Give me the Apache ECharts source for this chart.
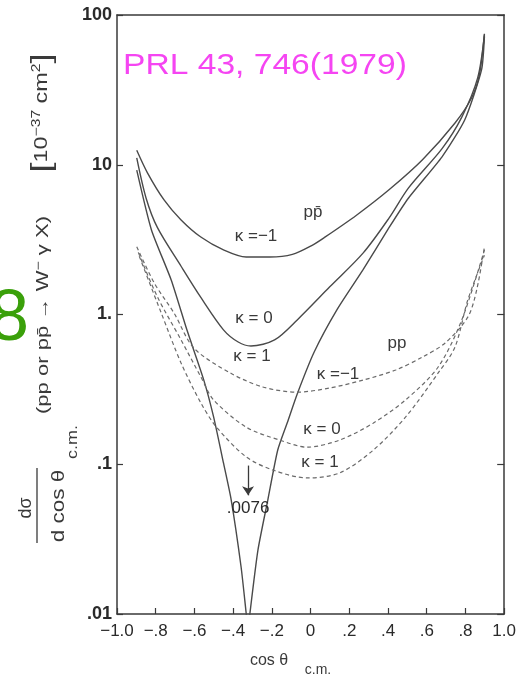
<!DOCTYPE html>
<html>
<head>
<meta charset="utf-8">
<script src="https://cdn.jsdelivr.net/npm/echarts@6/dist/echarts.min.js"></script>
<style>
  html, body { margin: 0; padding: 0; background: #fff; }
  #chart { width: 519px; height: 677px; }
</style>
</head>
<body>
<div id="chart"></div>
<script>
// d sigma / d cos(theta_cm) for W- + photon production, [cos theta, 1e-37 cm^2]
// p pbar curves (solid)
const ppbarKappaM1 = [[-0.898,12.5],[-0.842,8.8],[-0.756,5.8],[-0.669,4.28],[-0.567,3.29],[-0.45,2.70],[-0.333,2.42],[-0.211,2.42],[-0.094,2.52],[0.008,2.9],[0.069,3.25],[0.237,4.6],[0.405,6.8],[0.578,10.8],[0.746,19],[0.832,28],[0.872,40],[0.898,75]];
const ppbarKappa0 = [[-0.898,11.1],[-0.85,6.0],[-0.791,3.8],[-0.669,2.1],[-0.567,1.3],[-0.45,0.79],[-0.374,0.655],[-0.308,0.616],[-0.186,0.676],[-0.069,0.92],[0.099,1.53],[0.272,2.58],[0.405,4.4],[0.506,7.0],[0.679,12.8],[0.781,20.8],[0.863,38],[0.898,74]];
const ppbarKappa1 = [[-0.898,9.2],[-0.822,3.67],[-0.72,1.70],[-0.639,0.79],[-0.552,0.366],[-0.501,0.207],[-0.45,0.102],[-0.41,0.0577],[-0.359,0.0206],[-0.333,0.0102],[-0.323,0.0076],[-0.313,0.0102],[-0.272,0.0267],[-0.221,0.0577],[-0.17,0.124],[-0.12,0.19],[-0.069,0.295],[0.018,0.56],[0.135,1.07],[0.272,2.0],[0.405,3.8],[0.506,6.0],[0.679,11.3],[0.796,19.9],[0.883,43],[0.898,72]];
// p p curves (dashed)
const ppKappaM1 = [[-0.898,2.83],[-0.807,1.62],[-0.705,1.02],[-0.603,0.597],[-0.415,0.407],[-0.247,0.328],[-0.069,0.303],[0.099,0.323],[0.272,0.365],[0.44,0.426],[0.578,0.52],[0.695,0.645],[0.812,0.96],[0.858,1.46],[0.898,2.83]];
const ppKappa0 = [[-0.89,2.6],[-0.791,1.31],[-0.669,0.676],[-0.567,0.383],[-0.501,0.269],[-0.333,0.177],[-0.16,0.145],[-0.018,0.130],[0.15,0.145],[0.323,0.188],[0.491,0.269],[0.659,0.446],[0.781,0.92],[0.898,2.70]];
const ppKappa1 = [[-0.885,2.45],[-0.771,1.02],[-0.669,0.474],[-0.567,0.257],[-0.486,0.177],[-0.333,0.112],[-0.196,0.0916],[-0.018,0.081],[0.15,0.0875],[0.323,0.124],[0.491,0.207],[0.659,0.407],[0.746,0.607],[0.812,1.25],[0.898,2.49]];

// minimum of the pbar-p kappa = 1 curve
const kappa1Min = [-0.323, 0.0076];

// axis tick labels
const xTickLabels = ['\u22121.0','\u2212.8','\u2212.6','\u2212.4','\u2212.2','0','.2','.4','.6','.8','1.0'];
const yTickLabels = ['.01','.1','1.','10','100'];

const INK = '#3a3a3a';
const FONT = '"Liberation Sans", Arial, sans-serif';

const chart = echarts.init(document.getElementById('chart'), null, { renderer: 'canvas' });

function solid(name, data, extra) {
  return Object.assign({
    type: 'line', name, data, symbol: 'none', smooth: 0.3,
    clip: true, xAxisIndex: 0, yAxisIndex: 0,
    lineStyle: { color: '#4a4a4a', width: 1.4 }
  }, extra || {});
}
function dashed(name, data) {
  return {
    type: 'line', name, data, symbol: 'none', smooth: 0.3,
    clip: true, xAxisIndex: 0, yAxisIndex: 0,
    lineStyle: { color: '#6a6a6a', width: 1.2, type: [4, 3] }
  };
}

function fmtMin(v) { return String(v).replace(/^0/, ''); }

const kappaFont = '17px ' + FONT;
function label(text, x, y, font, extra) {
  return Object.assign({
    type: 'text', x, y, silent: true,
    style: { text, font: font || kappaFont, fill: INK, align: 'center', verticalAlign: 'middle' }
  }, extra || {});
}

const frameLine = { show: true, onZero: false, lineStyle: { color: INK, width: 1.5 } };

const option = {
  animation: false,
  backgroundColor: '#ffffff',
  grid: { left: 117, right: 9, top: 15, bottom: 63, containLabel: false },
  xAxis: [{
    type: 'value', min: -1, max: 1, interval: 0.2,
    axisLine: frameLine,
    axisTick: { inside: true, length: 6, lineStyle: { color: INK, width: 1.2 } },
    splitLine: { show: false },
    axisLabel: {
      margin: 9, color: '#2a2a2a', fontSize: 17, fontFamily: FONT,
      formatter: v => xTickLabels[Math.round((v + 1) / 0.2)]
    }
  }, {
    type: 'value', min: -1, max: 1, position: 'top',
    axisLine: frameLine,
    axisTick: { show: false }, axisLabel: { show: false }, splitLine: { show: false }
  }],
  yAxis: [{
    type: 'log', logBase: 10, min: 0.01, max: 100, position: 'left',
    axisLine: frameLine,
    axisTick: { inside: true, length: 6, lineStyle: { color: INK, width: 1.2 } },
    minorTick: { show: false },
    splitLine: { show: false },
    axisLabel: {
      margin: 5, color: '#2a2a2a', fontSize: 18, fontWeight: 'bold', fontFamily: FONT,
      formatter: v => yTickLabels[Math.round(Math.log10(v)) + 2]
    }
  }, {
    type: 'log', logBase: 10, min: 0.01, max: 100, position: 'right',
    axisLine: frameLine,
    axisTick: { inside: true, length: 7, lineStyle: { color: INK, width: 1.2 } },
    axisLabel: { show: false }, splitLine: { show: false }
  }],
  series: [
    solid('pp\u0304 \u03ba=-1', ppbarKappaM1),
    solid('pp\u0304 \u03ba=0', ppbarKappa0),
    solid('pp\u0304 \u03ba=1', ppbarKappa1, {
      smooth: 0.2,
      markLine: {
        silent: true, symbol: ['none', 'arrow'], symbolSize: 9,
        lineStyle: { color: INK, width: 1.3, type: 'solid' },
        itemStyle: { color: INK },
        label: { show: false },
        data: [[{ coord: [kappa1Min[0], 0.098] }, { coord: [kappa1Min[0], 0.062] }]]
      },
      markPoint: {
        silent: true, symbol: 'circle', symbolSize: 1,
        itemStyle: { color: 'rgba(0,0,0,0)' },
        label: {
          show: true, position: 'inside', color: '#2a2a2a', fontSize: 17, fontFamily: FONT,
          formatter: () => fmtMin(kappa1Min[1])
        },
        data: [{ coord: [kappa1Min[0], 0.051] }]
      }
    }),
    dashed('pp \u03ba=-1', ppKappaM1),
    dashed('pp \u03ba=0', ppKappa0),
    dashed('pp \u03ba=1', ppKappa1)
  ],
  graphic: [
    // reference tag
    { type: 'text', x: 123, y: 66, scaleX: 1.12, silent: true,
      style: { text: 'PRL 43, 746(1979)', font: '30px ' + FONT, fill: '#f545f2', align: 'left', verticalAlign: 'middle' } },
    // page number
    { type: 'text', x: 9, y: 320, silent: true,
      style: { text: '8', font: '72px ' + FONT, fill: '#3aa00a', align: 'center', verticalAlign: 'middle' } },
    // curve labels, p pbar
    label('pp\u0304', 313, 212, '17px ' + FONT),
    label('\u03ba =\u22121', 256, 236),
    label('\u03ba = 0', 254, 318),
    label('\u03ba = 1', 252, 356),
    // curve labels, p p
    label('pp', 397, 343, '17px ' + FONT),
    label('\u03ba =\u22121', 338, 374),
    label('\u03ba = 0', 322, 429),
    label('\u03ba = 1', 320, 462),
    // x axis title
    label('cos \u03b8', 269, 661, '16px ' + FONT),
    label('c.m.', 318, 670, '14px ' + FONT),
    // y axis title, reading bottom to top
    label('d\u03c3', 26, 508, '18px ' + FONT, { rotation: Math.PI / 2 }),
    { type: 'line', silent: true, shape: { x1: 37, y1: 468, x2: 37, y2: 543 }, style: { stroke: INK, lineWidth: 1.3 } },
    label('d cos \u03b8', 59, 506, '18px ' + FONT, { rotation: Math.PI / 2, scaleX: 1.25 }),
    label('c.m.', 73, 442, '15px ' + FONT, { rotation: Math.PI / 2, scaleX: 1.2 }),
    { type: 'text', x: 43, y: 315, rotation: Math.PI / 2, scaleX: 1.3, silent: true,
      style: {
        text: '(pp or pp\u0304 \u2192 W{s|\u2212} \u03b3 X)', font: '17px ' + FONT, fill: INK,
        align: 'center', verticalAlign: 'middle',
        rich: { s: { fontSize: 12, fontFamily: FONT, fill: INK, padding: [0, 0, 8, 0] } }
      } },
    { type: 'text', x: 42, y: 113, rotation: Math.PI / 2, scaleX: 1.3, silent: true,
      style: {
        text: '{b|[}10{s|\u221237} cm{s|2}{b|]}', font: '18px ' + FONT, fill: INK,
        align: 'center', verticalAlign: 'middle',
        rich: {
          b: { fontSize: 28, fontFamily: FONT, fill: INK },
          s: { fontSize: 12, fontFamily: FONT, fill: INK, padding: [0, 0, 10, 0] }
        }
      } }
  ]
};

chart.setOption(option);
</script>
</body>
</html>
